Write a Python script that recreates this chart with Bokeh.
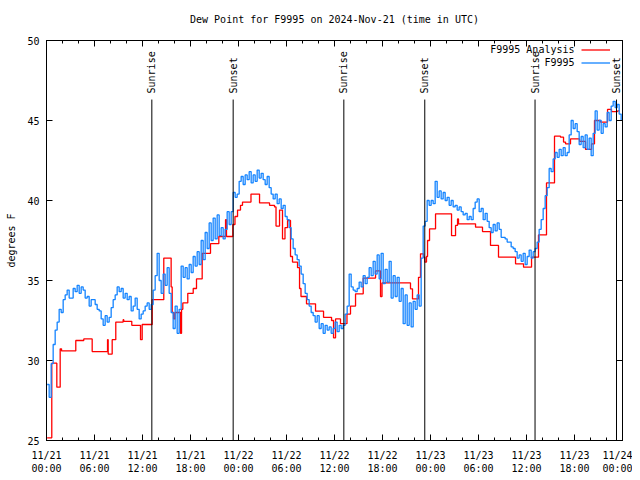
import numpy as np
import pandas as pd
from bokeh.plotting import figure
from bokeh.models import (Range1d, DatetimeAxis, LinearAxis, FixedTicker, Title,
                          DatetimeTickFormatter, Label, Legend, LegendItem)
from bokeh.embed import file_html
from bokeh.resources import INLINE
from bokeh.core.properties import value

FONT = "DejaVu Sans Mono"

# ---------------- data ----------------
start = pd.Timestamp("2024-11-21 00:00")
end = pd.Timestamp("2024-11-24 00:00")
title_text = "Dew Point for F9995 on 2024-Nov-21 (time in UTC)"

# F9995 observations, every 15 minutes starting 00:05 UTC
f9995 = [
    28.5, 27.7, 29.8, 31.0,  31.9, 32.4, 33.2, 33.0,  33.8, 34.1, 34.4, 33.9,
    33.9, 34.5, 34.3, 34.7,  34.2, 34.6, 34.4, 33.9,  34.0, 33.4, 33.8, 33.8,
    33.5, 33.2, 33.1, 32.6,  32.2, 32.8, 32.4, 32.7,  33.3, 33.8, 34.1, 34.6,
    34.3, 34.5, 33.9, 34.2,  33.8, 34.0, 33.1, 33.4,  33.9, 33.2, 32.6, 32.9,
    33.1, 33.4, 33.6, 33.2,  33.5, 34.4, 35.3, 36.7,  35.0, 34.2, 35.4, 34.7,
    35.8, 34.2, 33.0, 32.0,  33.4, 31.7, 33.2, 35.9,  35.2, 35.8, 35.1, 36.0,
    35.5, 36.5, 35.9, 36.8,  36.0, 37.5, 36.3, 38.0,  37.0, 38.6, 37.5, 38.9,
    37.6, 39.1, 37.8, 38.3,  37.6, 38.2, 39.3, 38.5,  39.3, 40.5, 40.2, 40.4,
    41.2, 41.5, 41.0, 41.6,  41.3, 41.8, 41.1, 41.6,  41.2, 41.9, 41.4, 41.7,
    41.3, 41.0, 41.5, 40.8,  40.4, 40.1, 40.4, 39.8,  40.1, 39.5, 39.7, 39.0,
    38.8, 38.3, 37.6, 37.0,  36.6, 36.3, 35.9, 35.4,  34.8, 34.2, 33.8, 33.4,
    33.0, 32.8, 32.4, 32.8,  32.0, 32.3, 31.7, 32.2,  31.9, 32.1, 31.7, 32.0,
    32.4, 31.8, 32.2, 32.0,  32.2, 32.9, 33.4, 35.4,  34.6, 34.4, 34.3, 34.5,
    34.9, 34.6, 35.3, 34.8,  35.2, 35.8, 35.3, 36.2,  35.4, 36.6, 35.1, 36.7,
    34.8, 35.7, 34.9, 36.2,  33.9, 35.3, 34.0, 35.2,  33.7, 34.5, 32.3, 34.1,
    32.2, 33.6, 32.1, 33.7,  33.2, 34.1, 33.4, 36.4,  38.4, 38.7, 40.0, 39.7,
    40.0, 39.8, 41.2, 40.2,  40.6, 40.1, 40.5, 40.0,  40.2, 39.7, 40.0, 39.6,
    39.7, 39.4, 39.6, 39.3,  39.1, 39.2, 38.8, 39.0,  38.8, 39.5, 39.9, 40.1,
    39.3, 39.5, 38.8, 39.2,  38.7, 38.3, 38.0, 38.5,  38.1, 38.6, 38.2, 37.7,
    37.7, 37.6, 37.4, 37.4,  37.1, 37.0, 36.8, 36.4,  36.6, 36.2, 36.7, 36.0,
    36.5, 36.9, 36.4, 36.8,  37.0, 37.4, 38.2, 38.8,  39.5, 40.3, 40.8, 42.0,
    41.8, 42.6, 43.0, 42.7,  43.2, 42.8, 43.3, 42.8,  43.0, 44.1, 45.0, 44.5,
    44.8, 44.3, 43.5, 44.0,  43.3, 44.1, 43.2, 43.9,  42.8, 44.2, 45.6, 44.4,
    45.0, 44.2, 44.8, 44.6,  45.5, 45.0, 45.9, 46.2,  45.8, 46.0, 45.4, 45.0,
]
f9995_times = pd.date_range("2024-11-21 00:05", periods=len(f9995), freq="15min")

# F9995 Analysis: step values (hours after 11/21 00:00 UTC)
analysis_hours = [
    0.08, 0.66, 1.29, 1.71, 1.88, 3.66, 4.66, 5.71, 7.63, 7.71, 8.21, 8.66,
    9.58, 9.66, 10.66, 11.75, 11.96, 13.21, 14.66, 15.58, 15.71, 15.88, 16.06,
    16.75, 16.88, 17.04, 17.66, 18.34, 18.75, 19.46, 20.5, 21.54, 22.38, 22.5,
    23.29, 23.56, 23.88, 24.25, 24.5, 25.56, 26.63, 27.88, 28.5, 28.69, 29.13,
    29.5, 29.81, 30.13, 30.5, 30.75, 31.38, 31.63, 31.81, 32.5, 33.63, 34.63,
    35.63, 35.88, 36.13, 36.75, 37.56, 38.0, 38.63, 39.59, 41.13, 41.75, 41.94,
    45.5, 45.75, 46.5, 46.75, 47.13, 47.29, 47.5, 47.63, 47.88, 48.63, 50.63,
    51.13, 51.38, 51.5, 53.63, 54.5, 55.5, 56.5, 58.63, 59.63, 60.63, 61.5,
    62.5, 63.5, 64.25, 64.63, 64.88, 65.5, 66.63, 67.38, 68.13, 68.5, 69.25,
    70.13, 70.63, 71.38, 71.63,
]
analysis = [
    25.17, 29.83, 28.33, 30.73, 30.6, 31.25, 31.35, 30.56, 31.3, 30.4, 31.3, 32.4,
    32.55, 32.45, 32.2, 31.3, 32.25, 33.8, 36.4, 34.6, 33.0, 32.6, 33.0,
    31.7, 33.2, 33.6, 34.2, 34.5, 35.1, 36.7, 37.3, 37.75, 38.8, 37.75,
    38.5, 39.0, 39.4, 39.7, 39.9, 40.4, 39.85, 39.7, 39.6, 38.4, 39.4,
    37.6, 38.3, 38.75, 36.5, 36.15, 35.8, 34.5, 34.0, 33.54, 33.08, 32.7,
    32.5, 31.42, 32.6, 32.3, 32.9, 33.4, 34.17, 35.15, 35.6, 34.0, 34.85,
    34.48, 33.85, 35.2, 36.67, 36.46, 36.15, 36.5, 37.5, 38.23, 39.17, 37.8,
    38.44, 38.85, 38.54, 38.33, 38.06, 37.19, 36.46, 36.04, 35.83, 36.46, 37.85,
    41.1, 44.02, 43.96, 43.65, 43.54, 43.85, 43.69, 43.19, 43.54, 45.0, 44.9,
    45.69, 45.56, 45.6, 45.6,
]
analysis_times = start + pd.to_timedelta(analysis_hours, unit="h")

# Sunrise / sunset (UTC)
sun_times = pd.to_datetime([
    "2024-11-21 13:10", "2024-11-21 23:20", "2024-11-22 13:10",
    "2024-11-22 23:17", "2024-11-23 13:04", "2024-11-23 23:15",
])
sun_labels = ["Sunrise", "Sunset", "Sunrise", "Sunset", "Sunrise", "Sunset"]

y_ticks = [25, 30, 35, 40, 45, 50]
x_major = pd.date_range(start, end, freq="6h")
x_minor = pd.date_range(start, end, freq="2h")

# ---------------- figure ----------------
p = figure(width=632, height=478, x_axis_type="datetime",
           output_backend="svg", toolbar_location=None,
           x_range=Range1d(start, end), y_range=Range1d(25, 50),
           min_border_left=46, min_border_right=10,
           min_border_top=40, min_border_bottom=38)
p.grid.visible = False
p.outline_line_color = "black"
p.outline_line_width = 1
p.background_fill_color = "white"
p.border_fill_color = "white"

def ms(ts):
    return [t.value / 1e6 for t in ts]

xticker = FixedTicker(ticks=ms(x_major), minor_ticks=ms(x_minor))
fmt = "%m/%d\n%H:%M"
xfmt = DatetimeTickFormatter(milliseconds=fmt, seconds=fmt, minsec=fmt, minutes=fmt,
                             hourmin=fmt, hours=fmt, days=fmt, months=fmt, years=fmt)

xa = p.xaxis[0]
xa.ticker = xticker
xa.formatter = xfmt
ya = p.yaxis[0]
ya.ticker = FixedTicker(ticks=y_ticks, minor_ticks=[])
ya.axis_label = "degrees F"

for ax in (xa, ya):
    ax.major_tick_in = 6
    ax.major_tick_out = 0
    ax.minor_tick_in = 3
    ax.minor_tick_out = 0
    ax.axis_line_color = "black"
    ax.major_tick_line_color = "black"
    ax.minor_tick_line_color = "black"
    ax.major_label_text_font = FONT
    ax.major_label_text_font_size = "10px"
    ax.major_label_text_color = "black"
    ax.axis_label_text_font = FONT
    ax.axis_label_text_font_size = "10px"
    ax.axis_label_text_font_style = "normal"
    ax.axis_label_text_color = "black"
xa.major_label_standoff = 9
ya.major_label_standoff = 7
ya.axis_label_standoff = 7

top = DatetimeAxis(ticker=xticker, formatter=xfmt,
                   major_label_overrides={t: "" for t in ms(x_major)},
                   major_tick_in=6, major_tick_out=0, minor_tick_in=3, minor_tick_out=0,
                   major_label_standoff=0)
right = LinearAxis(ticker=FixedTicker(ticks=y_ticks, minor_ticks=[]),
                   major_label_overrides={t: "" for t in y_ticks},
                   major_tick_in=6, major_tick_out=0, minor_tick_in=0, minor_tick_out=0,
                   major_label_standoff=0)
p.add_layout(top, "above")
p.add_layout(right, "right")

# spacer + title, stacked above the frame
p.add_layout(Title(text=" ", text_font=FONT, text_font_size="8px", standoff=0), "above")
p.add_layout(Title(text=title_text, align="center", text_font=FONT, text_font_size="10px",
                   text_font_style="normal", text_color="black"), "above")

# data
r_an = p.step(analysis_times, analysis, mode="after", line_color="#ff0000", line_width=1.3)
r_ob = p.step(f9995_times, f9995, mode="after", line_color="#1484ff", line_width=1.3)

# sunrise / sunset markers
p.segment(x0=sun_times, y0=[25] * len(sun_times), x1=sun_times, y1=[46.31] * len(sun_times),
          line_color="black", line_width=1)
p.text(x=sun_times, y=[46.69] * len(sun_times), text=sun_labels, angle=np.pi / 2,
       text_align="left", text_baseline="middle", text_font=value(FONT),
       text_font_size="10px", text_color="black")

# legend (gnuplot style: text on the left, sample on the right)
leg = Legend(items=[LegendItem(label=" ", renderers=[r_an]),
                    LegendItem(label=" ", renderers=[r_ob])],
             location=(535, 371), orientation="vertical",
             glyph_width=29, glyph_height=13, label_width=0, label_standoff=0,
             label_text_font_size="10px", spacing=0, padding=0, margin=0,
             border_line_color=None, background_fill_alpha=0)
p.add_layout(leg, "center")
p.add_layout(Label(x=528, y=391, x_units="screen", y_units="screen", text="F9995 Analysis",
                   text_align="right", text_baseline="middle", text_font=FONT,
                   text_font_size="10px", text_color="black"))
p.add_layout(Label(x=528, y=378, x_units="screen", y_units="screen", text="F9995",
                   text_align="right", text_baseline="middle", text_font=FONT,
                   text_font_size="10px", text_color="black"))

open("out.html", "w").write(file_html(p, INLINE))
